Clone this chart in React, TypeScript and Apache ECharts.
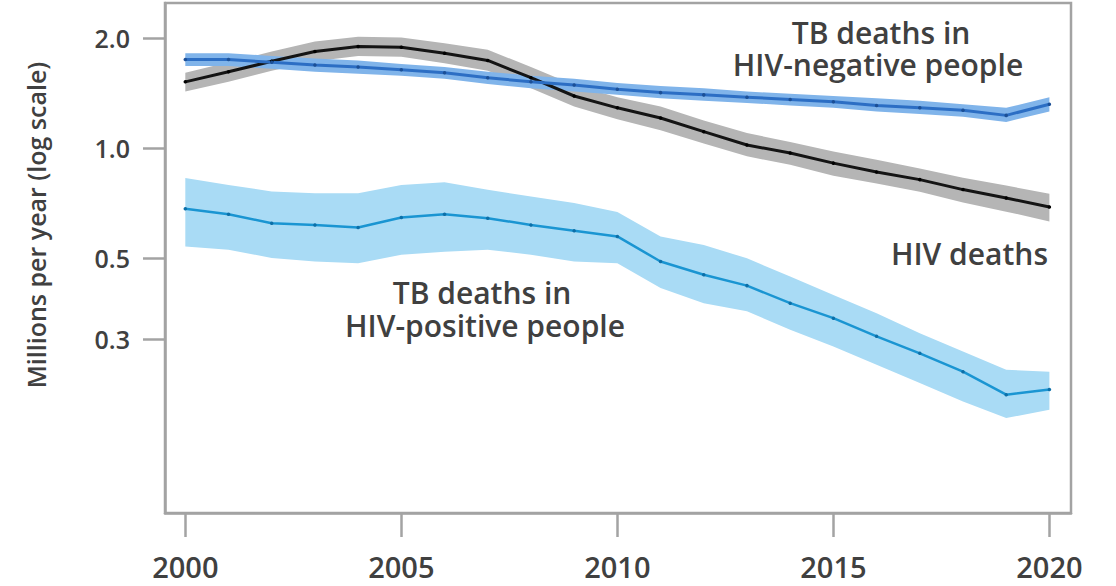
import React, { useEffect, useRef } from "react";
import * as echarts from "echarts";

const years = [2000, 2001, 2002, 2003, 2004, 2005, 2006, 2007, 2008, 2009, 2010, 2011, 2012, 2013, 2014, 2015, 2016, 2017, 2018, 2019, 2020];

const hivDeaths = [1.52, 1.62, 1.73, 1.84, 1.9, 1.89, 1.82, 1.74, 1.56, 1.39, 1.29, 1.21, 1.11, 1.02, 0.97, 0.91, 0.86, 0.82, 0.77, 0.73, 0.69];
const hivDeathsHigh = [1.61, 1.72, 1.84, 1.96, 2.02, 2.01, 1.94, 1.86, 1.67, 1.49, 1.38, 1.3, 1.19, 1.1, 1.04, 0.98, 0.93, 0.88, 0.83, 0.79, 0.75];
const hivDeathsLow = [1.43, 1.52, 1.63, 1.73, 1.79, 1.78, 1.71, 1.63, 1.46, 1.3, 1.2, 1.12, 1.03, 0.95, 0.9, 0.84, 0.8, 0.76, 0.71, 0.67, 0.63];

const tbNeg = [1.75, 1.75, 1.72, 1.69, 1.67, 1.64, 1.61, 1.56, 1.52, 1.49, 1.45, 1.42, 1.4, 1.38, 1.36, 1.34, 1.31, 1.29, 1.27, 1.23, 1.32];
const tbNegHigh = [1.82, 1.82, 1.79, 1.76, 1.74, 1.7, 1.67, 1.62, 1.58, 1.55, 1.51, 1.48, 1.46, 1.43, 1.41, 1.39, 1.37, 1.35, 1.32, 1.29, 1.38];
const tbNegLow = [1.68, 1.68, 1.65, 1.62, 1.6, 1.58, 1.55, 1.5, 1.46, 1.43, 1.4, 1.37, 1.35, 1.33, 1.31, 1.29, 1.26, 1.24, 1.22, 1.18, 1.26];

const tbPos = [0.682, 0.659, 0.623, 0.616, 0.606, 0.646, 0.659, 0.643, 0.616, 0.594, 0.573, 0.489, 0.45, 0.42, 0.376, 0.342, 0.305, 0.274, 0.244, 0.211, 0.218];
const tbPosHigh = [0.828, 0.793, 0.761, 0.753, 0.753, 0.793, 0.807, 0.769, 0.737, 0.707, 0.668, 0.573, 0.543, 0.499, 0.445, 0.396, 0.353, 0.311, 0.277, 0.247, 0.244];
const tbPosLow = [0.538, 0.527, 0.5, 0.489, 0.484, 0.51, 0.52, 0.527, 0.51, 0.489, 0.484, 0.414, 0.376, 0.357, 0.318, 0.286, 0.255, 0.227, 0.202, 0.182, 0.192];

const yTickValues = [0.3, 0.5, 1.0, 2.0];
const xTickValues = [2000, 2005, 2010, 2015, 2020];
const yMin = 0.1;
const yMax = 2.5;

const lg = (v: number) => Math.log10(v);
const pts = (vals: number[]) => years.map((y, i) => [y, lg(vals[i])]);

const FONT = "'Open Sans', 'Noto Sans', sans-serif";
const TXT = "#404040";
const AXIS = "#a3a3a3";

function band(name: string, hi: number[], lo: number[], color: string) {
  const data = years.map((y, i) => [y, lg(lo[i]), lg(hi[i])]);
  return {
    type: "custom",
    name,
    data,
    encode: { x: 0, y: [1, 2] },
    silent: true,
    z: 1,
    clip: true,
    renderItem: (params: any, api: any) => {
      if (params.dataIndex !== 0) return null;
      const upper = data.map((d) => api.coord([d[0], d[2]]));
      const lower = data.map((d) => api.coord([d[0], d[1]])).reverse();
      return {
        type: "polygon",
        shape: { points: upper.concat(lower) },
        style: { fill: color, stroke: "none" },
      };
    },
  };
}

function mainLine(name: string, vals: number[], color: string, dot: string, width: number) {
  return {
    type: "line",
    name,
    data: pts(vals),
    symbol: "circle",
    symbolSize: 3.5,
    showSymbol: true,
    itemStyle: { color: dot, borderWidth: 0 },
    lineStyle: { color, width },
    z: 3,
    silent: true,
  };
}

function label(text: string, x: number, y: number, align: string) {
  return {
    type: "text",
    x,
    y,
    style: {
      text,
      fill: TXT,
      fontSize: 30,
      lineHeight: 30,
      fontFamily: FONT,
      fontWeight: 600,
      align,
      verticalAlign: "middle",
    },
  };
}

export default function App() {
  const ref = useRef<HTMLDivElement>(null);
  useEffect(() => {
    if (!ref.current) return;
    const chart = echarts.init(ref.current, null, { renderer: "svg" });
    const option: any = {
      animation: false,
      backgroundColor: "#ffffff",
      grid: {
        left: 165,
        top: 3,
        right: 45,
        bottom: 73,
        show: true,
        borderColor: AXIS,
        borderWidth: 2.5,
        backgroundColor: "transparent",
      },
      xAxis: {
        type: "value",
        min: 1999.53,
        max: 2020.5,
        axisLine: { show: true, onZero: false, lineStyle: { color: AXIS, width: 2.5 } },
        axisTick: {
          show: true,
          customValues: xTickValues,
          length: 24,
          lineStyle: { color: AXIS, width: 2.5 },
        },
        axisLabel: {
          customValues: xTickValues,
          margin: 38,
          fontSize: 29,
          lineHeight: 30,
          fontFamily: FONT,
          fontWeight: 600,
          color: TXT,
          formatter: (v: number) => String(Math.round(v)),
        },
        splitLine: { show: false },
      },
      yAxis: {
        type: "value",
        min: lg(yMin),
        max: lg(yMax),
        axisLine: { show: true, onZero: false, lineStyle: { color: AXIS, width: 2.5 } },
        axisTick: {
          show: true,
          customValues: yTickValues.map(lg),
          length: 22,
          lineStyle: { color: AXIS, width: 2.5 },
        },
        axisLabel: {
          customValues: yTickValues.map(lg),
          margin: 35,
          fontSize: 25,
          fontFamily: FONT,
          fontWeight: 600,
          color: TXT,
          formatter: (v: number) => Math.pow(10, v).toFixed(1),
        },
        splitLine: { show: false },
      },
      graphic: [
        {
          type: "text",
          x: 36,
          y: 225,
          rotation: Math.PI / 2,
          style: {
            text: "Millions per year (log scale)",
            fill: TXT,
            fontSize: 25,
            fontFamily: FONT,
            fontWeight: 600,
            align: "center",
            verticalAlign: "middle",
          },
        },
        label("TB deaths in", 881, 32, "center"),
        label("HIV-negative people", 878, 64, "center"),
        label("HIV deaths", 1048, 253, "right"),
        label("TB deaths in", 482, 292, "center"),
        label("HIV-positive people", 485, 325, "center"),
      ],
      series: [
        band("posBand", tbPosHigh, tbPosLow, "#a9dbf5"),
        band("hivBand", hivDeathsHigh, hivDeathsLow, "#b5b5b5"),
        band("negBand", tbNegHigh, tbNegLow, "#80b4ea"),
        mainLine("HIV deaths", hivDeaths, "#141414", "#000000", 3),
        mainLine("TB deaths in HIV-negative people", tbNeg, "#2c6ec4", "#1b4f96", 3),
        mainLine("TB deaths in HIV-positive people", tbPos, "#1a95d2", "#0c6fa8", 2.5),
      ],
    };
    chart.setOption(option);
    return () => chart.dispose();
  }, []);
  return (
    <div
      ref={ref}
      style={{ position: "fixed", left: 0, top: 0, width: 1116, height: 586 }}
    />
  );
}
